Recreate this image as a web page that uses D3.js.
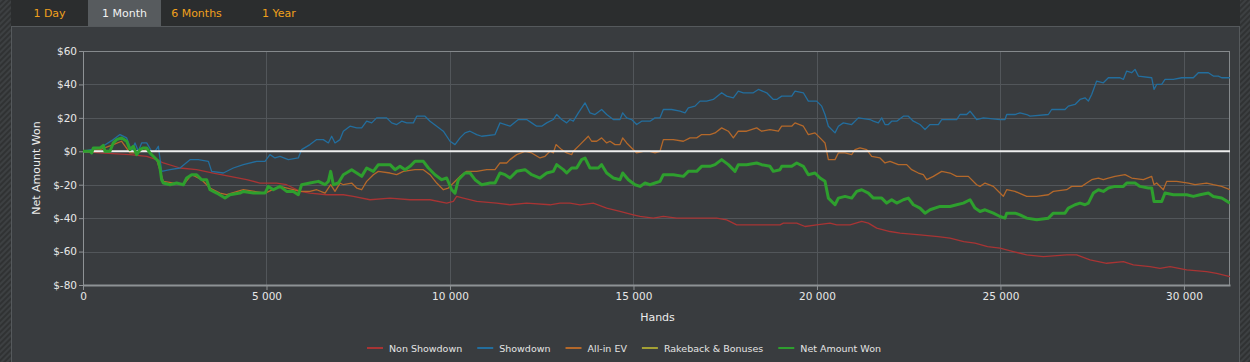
<!DOCTYPE html>
<html>
<head>
<meta charset="utf-8">
<script src="https://cdn.jsdelivr.net/npm/d3@7"></script>
<style>
  html, body { margin: 0; padding: 0; background: #2d2f30; }
  svg { display: block; font-family: "DejaVu Sans", Verdana, sans-serif; }
</style>
</head>
<body>
<svg id="chart" width="1250" height="362"></svg>
<script>
//

const tabs = ['1 Day', '1 Month', '6 Months', '1 Year']
const activeTab = '1 Month'

const handsMax = 31255
const xTicks = [0, 5000, 10000, 15000, 20000, 25000, 30000]
const yTicks = [60, 40, 20, 0, -20, -40, -60, -80]

const seriesNames = ['Non Showdown', 'Showdown', 'All-in EV', 'Rakeback & Bonuses', 'Net Amount Won']
const seriesColors = ['#a83434', '#236e9e', '#b4682a', '#a3a034', '#2e9f2e']

// [hands, dollars]
const nonShowdown = [
  [0, 0], [463, -1], [1280, -2], [1735, -3], [2007, -5], [2189, -7], [2643, -10], [3097, -11],
  [3551, -13], [4005, -15], [4460, -17], [4823, -19], [5277, -19], [5549, -20], [5913, -24], [6185, -25],
  [6640, -26], [7094, -26], [7367, -27], [7821, -29], [8366, -28], [8911, -29], [9456, -29], [9910, -31],
  [10092, -30], [10183, -27], [10364, -28], [10728, -30], [11273, -31], [11636, -32], [12090, -31], [12726, -32],
  [12998, -31], [13270, -31], [13543, -32], [13906, -31], [14270, -34], [14633, -36], [14996, -38], [15178, -39],
  [15541, -40], [15814, -39], [16177, -40], [16541, -40], [16904, -40], [17267, -40], [17539, -41], [17812, -44],
  [18175, -44], [18448, -44], [18993, -44], [19084, -43], [19448, -43], [19675, -45], [19992, -44], [20356, -43],
  [20537, -44], [20901, -44], [21219, -42], [21401, -43], [21628, -46], [21991, -48], [22264, -49], [22808, -50],
  [23300, -51], [23626, -52], [24000, -54], [24307, -55], [24650, -57], [24988, -58], [25351, -60], [25715, -62],
  [26169, -63], [26804, -62], [27077, -62], [27441, -65], [27895, -67], [28349, -66], [28621, -68], [29075, -69],
  [29348, -70], [29620, -69], [30075, -71], [30619, -72], [30892, -73], [31255, -75]
]

const showdown = [
  [0, 0], [463, 2], [826, 7], [1008, 10], [1190, 8], [1326, 0], [1417, 5], [1508, 0], [1598, 5], [1735, 5],
  [1871, 0], [1962, 0], [2053, 3], [2143, -12], [2370, -11], [2643, -10], [2916, -5], [3143, -5], [3415, -6],
  [3506, -12], [3824, -13], [4096, -10], [4369, -8], [4732, -6], [4959, -6], [5095, -2], [5232, -4], [5368, -3],
  [5595, -5], [5867, -4], [5958, 1], [6185, 4], [6368, 7], [6549, 7], [6686, 5], [6776, 9], [6867, 5], [7003, 7],
  [7094, 12], [7276, 15], [7458, 14], [7594, 14], [7730, 18], [7866, 17], [8003, 20], [8275, 20], [8411, 17],
  [8548, 16], [8684, 18], [8820, 17], [9002, 17], [9093, 21], [9320, 21], [9456, 18], [9638, 15], [9819, 12],
  [10001, 6], [10137, 4], [10273, 8], [10410, 11], [10546, 12], [10728, 10], [10864, 9], [11227, 10], [11363, 17],
  [11636, 15], [11863, 19], [12090, 19], [12226, 17], [12362, 15], [12499, 15], [12635, 17], [12816, 19],
  [12907, 22], [13043, 19], [13180, 17], [13270, 19], [13361, 18], [13498, 23], [13679, 29], [13815, 23],
  [13952, 22], [14133, 25], [14270, 22], [14451, 19], [14633, 19], [14706, 23], [14815, 20], [14951, 19],
  [15087, 16], [15223, 18], [15450, 18], [15587, 20], [15723, 20], [15814, 25], [16041, 25], [16268, 24],
  [16404, 23], [16495, 26], [16677, 27], [16813, 30], [16995, 30], [17176, 31], [17403, 35], [17539, 33],
  [17721, 32], [17857, 36], [17993, 35], [18266, 35], [18403, 37], [18630, 35], [18811, 31], [18903, 31],
  [19039, 33], [19311, 33], [19402, 36], [19629, 35], [19765, 30], [19992, 30], [20129, 27], [20219, 22],
  [20311, 15], [20492, 11], [20583, 15], [20719, 17], [20946, 16], [21128, 20], [21446, 19], [21537, 18],
  [21673, 17], [21764, 20], [21855, 16], [21946, 16], [22036, 18], [22173, 18], [22354, 21], [22490, 21],
  [22627, 18], [22808, 16], [22945, 13], [23081, 16], [23308, 16], [23399, 19], [23807, 19], [23898, 22],
  [24080, 22], [24171, 24], [24352, 19], [24534, 20], [24988, 19], [25124, 19], [25170, 22], [25397, 22],
  [25533, 23], [25715, 22], [25806, 21], [26305, 22], [26396, 25], [26759, 25], [26850, 27], [27032, 28],
  [27168, 31], [27304, 32], [27395, 30], [27486, 34], [27622, 42], [27804, 41], [27940, 44], [28258, 44],
  [28349, 43], [28440, 48], [28576, 47], [28667, 49], [28758, 45], [29121, 44], [29185, 37], [29257, 40],
  [29394, 40], [29484, 43], [29711, 43], [29938, 44], [30256, 44], [30392, 47], [30665, 47], [30801, 45],
  [30937, 45], [31028, 44], [31255, 44]
]

const allInEv = [
  [0, 0], [463, 1], [826, 4], [1053, 6], [1280, -1], [1462, -1], [1735, 1], [2007, -5], [2189, -18],
  [2734, -20], [2961, -14], [3233, -17], [3460, -22], [3733, -25], [3915, -26], [4369, -23], [4959, -25],
  [5368, -21], [5731, -23], [5913, -24], [6185, -24], [6368, -23], [6595, -25], [6749, -20], [6867, -24],
  [7003, -19], [7094, -20], [7321, -19], [7458, -22], [7594, -23], [7730, -18], [7912, -14], [8048, -12],
  [8366, -13], [8548, -14], [8729, -12], [9047, -11], [9274, -11], [9456, -14], [9638, -19], [9819, -23],
  [9956, -22], [10183, -17], [10273, -15], [10455, -12], [10728, -12], [11000, -11], [11227, -11], [11363, -7],
  [11545, -7], [11636, -5], [11817, -2], [12045, 0], [12226, -1], [12453, -4], [12590, -3], [12726, 0],
  [12816, -1], [12889, 4], [13043, 1], [13180, -1], [13316, -2], [13361, 0], [13543, 4], [13770, 9],
  [13861, 6], [13997, 6], [14133, 8], [14270, 5], [14360, 6], [14497, 4], [14633, 4], [14706, 8], [14815, 5],
  [14951, 2], [15087, -1], [15269, 0], [15450, 0], [15587, -1], [15723, 0], [15814, 7], [16086, 7], [16359, 6],
  [16541, 8], [16722, 8], [16858, 10], [17085, 10], [17222, 11], [17403, 14], [17585, 12], [17721, 8],
  [17857, 12], [18084, 12], [18357, 14], [18493, 12], [18720, 13], [18948, 12], [19039, 15], [19311, 15],
  [19402, 17], [19629, 15], [19765, 10], [19947, 11], [20083, 8], [20219, 5], [20311, -5], [20492, -5],
  [20583, -1], [20765, -1], [20946, -2], [21037, 1], [21173, 2], [21355, 1], [21491, -3], [21718, -4],
  [21855, -7], [21991, -6], [22218, -8], [22445, -8], [22581, -11], [22763, -13], [22899, -14], [22990, -17],
  [23172, -15], [23399, -12], [23626, -13], [23807, -15], [24125, -15], [24352, -20], [24443, -21],
  [24580, -19], [24807, -21], [24988, -25], [25079, -27], [25170, -23], [25397, -24], [25715, -27],
  [25987, -27], [26305, -26], [26441, -24], [26804, -23], [26941, -21], [27213, -21], [27350, -19],
  [27486, -17], [27668, -16], [27804, -17], [27940, -16], [28122, -15], [28394, -14], [28576, -16],
  [28894, -17], [29121, -15], [29185, -20], [29257, -19], [29439, -23], [29530, -18], [29802, -18],
  [30120, -19], [30301, -20], [30619, -19], [30801, -20], [31028, -21], [31255, -23]
]

const rakeback = [[0, 0], [31255, 0]]

const netWon = [
  [0, 0], [190, 0], [236, -1], [281, 2], [463, 2], [554, 3.5], [599, 0], [735, 0], [826, 5], [917, 7],
  [1053, 8], [1190, 6], [1280, 1], [1371, 3], [1462, -2], [1553, 1], [1644, 2], [1735, 2], [1825, -1],
  [1962, -4], [2053, -6], [2098, -10], [2143, -17], [2189, -19], [2370, -20], [2552, -19], [2734, -20],
  [2825, -16], [2961, -14], [3097, -14], [3233, -17], [3370, -17], [3460, -23], [3642, -25], [3869, -28],
  [4005, -26], [4278, -25], [4369, -24], [4641, -25], [4959, -25], [5050, -21], [5186, -23], [5368, -21],
  [5549, -24], [5731, -24], [5867, -26], [5958, -20], [6185, -19], [6413, -18], [6595, -20], [6686, -18],
  [6749, -12], [6822, -20], [6958, -19], [7094, -14], [7321, -11], [7458, -13], [7594, -15], [7730, -10],
  [7912, -12], [8048, -8], [8366, -8], [8502, -11], [8638, -9], [8775, -11], [8911, -9], [9047, -6],
  [9274, -6], [9411, -10], [9592, -14], [9774, -17], [9910, -16], [10046, -23], [10137, -25], [10228, -17],
  [10410, -13], [10546, -13], [10682, -17], [10864, -20], [11091, -19], [11227, -19], [11363, -13],
  [11500, -14], [11636, -16], [11817, -12], [12045, -11], [12226, -14], [12453, -16], [12635, -13],
  [12816, -12], [12907, -8], [13089, -11], [13180, -13], [13316, -10], [13452, -10], [13588, -5], [13679, -4],
  [13815, -10], [14042, -10], [14133, -8], [14270, -13], [14451, -16], [14633, -17], [14706, -13],
  [14860, -17], [15042, -20], [15178, -21], [15314, -19], [15450, -20], [15587, -19], [15723, -18],
  [15814, -14], [16086, -14], [16359, -15], [16495, -12], [16722, -12], [16858, -9], [17085, -9], [17222, -8],
  [17403, -5], [17585, -8], [17767, -12], [17857, -8], [18084, -8], [18357, -7], [18493, -8], [18720, -9],
  [18811, -12], [18993, -11], [19039, -9], [19311, -9], [19448, -7], [19629, -9], [19765, -14], [19947, -13],
  [20083, -16], [20219, -18], [20311, -28], [20492, -32], [20583, -28], [20765, -27], [20946, -28],
  [21083, -24], [21219, -23], [21401, -25], [21537, -28], [21764, -28], [21900, -31], [22036, -29],
  [22173, -31], [22354, -29], [22490, -28], [22627, -32], [22808, -34], [22945, -37], [23081, -35],
  [23353, -33], [23626, -33], [23807, -32], [23989, -31], [24171, -29], [24307, -34], [24443, -36],
  [24580, -35], [24807, -37], [24988, -39], [25124, -40], [25170, -37], [25397, -37], [25533, -38],
  [25715, -40], [25987, -41], [26305, -40], [26441, -37], [26759, -37], [26850, -34], [27032, -32],
  [27168, -31], [27304, -32], [27395, -31], [27531, -25], [27668, -23], [27804, -24], [27940, -22],
  [28122, -21], [28349, -21], [28440, -19], [28667, -19], [28803, -21], [29030, -22], [29121, -22],
  [29185, -30], [29394, -30], [29484, -25], [29711, -26], [30075, -26], [30256, -27], [30438, -26],
  [30665, -25], [30801, -27], [31028, -28], [31255, -31]
]

const seriesData = [nonShowdown, showdown, allInEv, rakeback, netWon]

//

const W = 1250
const H = 362
const margin = { top: 51, right: 20, bottom: 77, left: 83 }
const plotW = W - margin.left - margin.right
const plotH = H - margin.top - margin.bottom

const svg = d3.select('#chart')

// hatched side strips
const defs = svg.append('defs')
const hatch = defs.append('pattern')
  .attr('id', 'hatch')
  .attr('width', 4)
  .attr('height', 4)
  .attr('patternUnits', 'userSpaceOnUse')
  .attr('patternTransform', 'rotate(45)')
hatch.append('rect').attr('width', 4).attr('height', 4).attr('fill', '#303233')
hatch.append('rect').attr('width', 2).attr('height', 4).attr('fill', '#3d4042')

svg.append('rect').attr('width', W).attr('height', H).attr('fill', '#2d2f30')
svg.append('rect').attr('x', 0).attr('y', 0).attr('width', 11).attr('height', H).attr('fill', 'url(#hatch)')
svg.append('rect').attr('x', 1240).attr('y', 0).attr('width', 10).attr('height', H).attr('fill', 'url(#hatch)')

// tab bar
const tabX = d3.scaleOrdinal().domain(tabs).range([[11, 88], [88, 161], [161, 232], [232, 326]])
const tabG = svg.append('g').attr('class', 'tabs')
tabG.append('rect').attr('x', 11).attr('y', 0).attr('width', 1229).attr('height', 26).attr('fill', '#2b2d2e')
tabs.forEach((t) => {
  const [x0, x1] = tabX(t)
  const active = t === activeTab
  if (active) {
    tabG.append('rect').attr('x', x0).attr('y', 0).attr('width', x1 - x0).attr('height', 26).attr('fill', '#575b5e')
  }
  tabG.append('text')
    .attr('x', (x0 + x1) / 2)
    .attr('y', 17)
    .attr('text-anchor', 'middle')
    .attr('font-size', 11)
    .attr('fill', active ? '#f2f2f2' : '#f0a01c')
    .text(t)
})

// panel
svg.append('rect')
  .attr('x', 11.5).attr('y', 26.5).attr('width', 1228).attr('height', H - 26)
  .attr('fill', '#393c3f')
  .attr('stroke', '#55595c')

//

const x = d3.scaleLinear().domain([0, handsMax]).range([0, plotW])
const y = d3.scaleLinear().domain([-80, 60]).range([plotH, 0])

const g = svg.append('g').attr('transform', `translate(${margin.left},${margin.top})`)

// grid
g.append('g')
  .selectAll('line.h')
  .data(yTicks)
  .join('line')
  .attr('x1', 0).attr('x2', plotW)
  .attr('y1', (d) => Math.round(y(d)) + 0.5).attr('y2', (d) => Math.round(y(d)) + 0.5)
  .attr('stroke', '#52565a')

g.append('g')
  .selectAll('line.v')
  .data(xTicks.filter((d) => d > 0))
  .join('line')
  .attr('x1', (d) => Math.round(x(d)) + 0.5).attr('x2', (d) => Math.round(x(d)) + 0.5)
  .attr('y1', 0).attr('y2', plotH)
  .attr('stroke', '#52565a')

// frame
g.append('rect')
  .attr('x', 0.5).attr('y', 0.5).attr('width', plotW - 1).attr('height', plotH)
  .attr('fill', 'none')
  .attr('stroke', '#85898c')

// axes
const fmtHands = (d) => d3.format(',')(d).replace(/,/g, ' ')

const xAxis = d3.axisBottom(x)
  .tickValues(xTicks)
  .tickFormat(fmtHands)
  .tickSizeInner(5)
  .tickSizeOuter(0)
  .tickPadding(3)

const yAxis = d3.axisLeft(y)
  .tickValues(yTicks)
  .tickFormat((d) => `$${d}`)
  .tickSizeInner(4)
  .tickSizeOuter(0)
  .tickPadding(2)

const gx = g.append('g').attr('transform', `translate(0,${plotH})`).call(xAxis)
const gy = g.append('g').call(yAxis)

;[gx, gy].forEach((a) => {
  a.select('.domain').attr('stroke', '#8e9295').attr('stroke-width', 2)
  a.selectAll('.tick line').attr('stroke', '#8e9295')
  a.selectAll('.tick text')
    .attr('fill', '#e8e8e8')
    .attr('font-size', 10.5)
    .attr('font-family', '"DejaVu Sans", Verdana, sans-serif')
})
gy.select('.domain').attr('stroke-width', 1)

g.append('text')
  .attr('transform', `translate(${37 - margin.left},${168 - margin.top}) rotate(-90)`)
  .attr('text-anchor', 'middle')
  .attr('dominant-baseline', 'middle')
  .attr('font-size', 11)
  .attr('fill', '#ececec')
  .text('Net Amount Won')

g.append('text')
  .attr('x', plotW / 2 + 1)
  .attr('y', 321 - margin.top)
  .attr('text-anchor', 'middle')
  .attr('font-size', 11)
  .attr('fill', '#ececec')
  .text('Hands')

// series
const line = d3.line().x((d) => x(d[0])).y((d) => y(d[1])).curve(d3.curveLinear)

const clip = defs.append('clipPath').attr('id', 'plotclip')
clip.append('rect').attr('width', plotW).attr('height', plotH)

const lines = g.append('g').attr('clip-path', 'url(#plotclip)')

seriesData.forEach((data, i) => {
  if (i === 3) return
  if (i === 4) {
    // zero line, rakeback stays flat on it
    lines.append('line')
      .attr('x1', 0).attr('x2', plotW)
      .attr('y1', y(0)).attr('y2', y(0))
      .attr('stroke', '#eeeeee')
      .attr('stroke-width', 2)
  }
  lines.append('path')
    .datum(data)
    .attr('d', line)
    .attr('fill', 'none')
    .attr('stroke', seriesColors[i])
    .attr('stroke-width', i === 4 ? 3 : 1.3)
    .attr('stroke-linejoin', 'round')
})

// legend
const legend = svg.append('g').attr('transform', 'translate(367,348)')
let lx = 0
seriesNames.forEach((name, i) => {
  const item = legend.append('g').attr('transform', `translate(${lx},0)`)
  item.append('line')
    .attr('x1', 0).attr('x2', 16)
    .attr('y1', 0).attr('y2', 0)
    .attr('stroke', seriesColors[i])
    .attr('stroke-width', 2)
  const t = item.append('text')
    .attr('x', 22)
    .attr('y', 3.5)
    .attr('font-size', 9.5)
    .attr('fill', '#e4e4e4')
    .text(name)
  lx += 22 + t.node().getComputedTextLength() + 15
})
</script>
</body>
</html>
